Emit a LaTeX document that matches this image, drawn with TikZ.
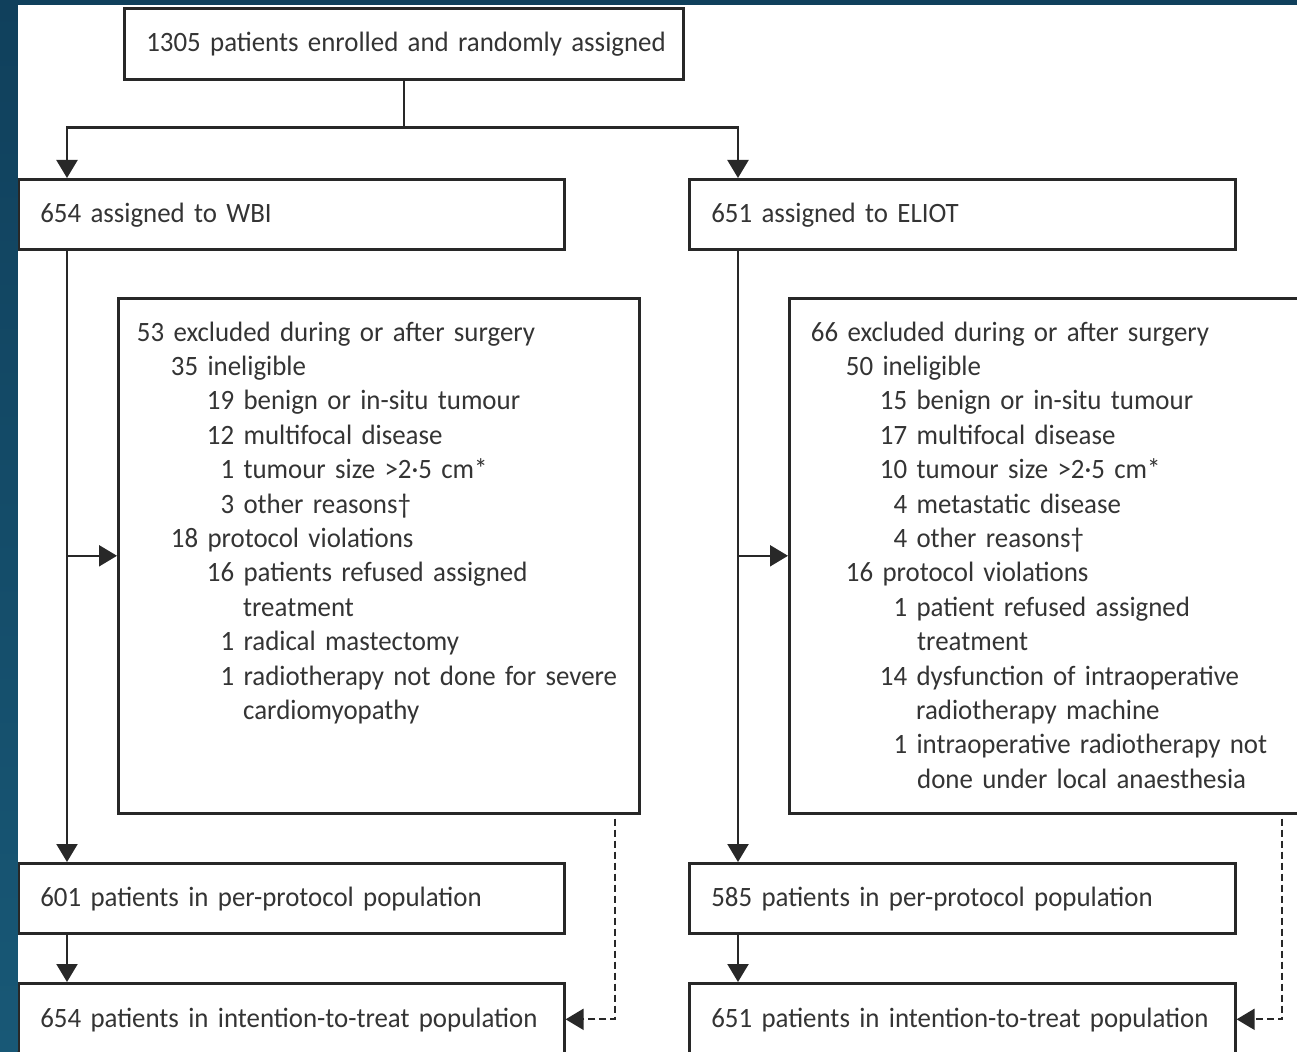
\documentclass[tikz,border=0pt]{standalone}
\usepackage{fontspec}
\setmainfont{Carlito}[FakeStretch=0.96, Numbers={Monospaced,Lining}]
\usetikzlibrary{arrows.meta}
\definecolor{ink}{RGB}{40,40,40}
\definecolor{txt}{RGB}{52,52,52}
\definecolor{stripa}{RGB}{16,64,92}
\definecolor{stripb}{RGB}{24,88,118}
\newcommand{\exn}[2]{\makebox[#1][r]{#2}\ }
\newcommand{\tightfont}{\fontsize{28}{34.4}\selectfont}

\begin{document}
\begin{tikzpicture}[
        x=1pt, y=-1pt,
        font=\tightfont,
        box/.style = {draw=ink, line width=2.6pt, anchor=north west,
                      inner xsep=22pt, inner ysep=0pt, text=txt},
        onebox/.style = {box, text width=502pt, minimum height=70pt,
                         text height=20pt, text depth=4pt, align=left},
        exbox/.style = {box, minimum width=521pt, minimum height=515pt},
        excl/.style = {anchor=base west, inner sep=0pt, text width=540pt,
                       align=left, text=txt},
        arr/.style = {draw=ink, line width=2.2pt, -{Triangle[width=21pt,length=18pt]}},
        dasharr/.style = {arr, line width=2pt, dash pattern=on 7pt off 4pt}]
      \useasboundingbox (0,0) rectangle (1297,1051);
      \clip (0,0) rectangle (1297,1051);
      \fill[white] (0,0) rectangle (1297,1051);

      \node[box, text width=515pt, minimum height=71pt, text height=20pt, text depth=4pt,
            align=left] (enrol) at (123,7) {\mbox{1305 patients enrolled and randomly assigned}};
      \node[onebox] (wbi) at (17,178) {654 assigned to WBI};
      \node[onebox] (eliot) at (688,178) {651 assigned to ELIOT};
      \node[exbox] (exl) at (117,297) {};
      \node[exbox] (exr) at (788,297) {};
      \node[excl] (exltext) at ([shift={(22,44)}]exl.north west) {%
        \exn{25pt}{53}excluded during or after surgery\\
        \exn{59pt}{35}ineligible\\
        \exn{95pt}{19}benign or in-situ tumour\\
        \exn{95pt}{12}multifocal disease\\
        \exn{95pt}{1}tumour size >2·5 cm*\\
        \exn{95pt}{3}other reasons†\\
        \exn{59pt}{18}protocol violations\\
        \exn{95pt}{16}patients refused assigned\\
        \hspace*{104pt}treatment\\
        \exn{95pt}{1}radical mastectomy\\
        \exn{95pt}{1}radiotherapy not done for severe\\
        \hspace*{104pt}cardiomyopathy};
      \node[excl] (exrtext) at ([shift={(23,44)}]exr.north west) {%
        \exn{27pt}{66}excluded during or after surgery\\
        \exn{62pt}{50}ineligible\\
        \exn{96pt}{15}benign or in-situ tumour\\
        \exn{96pt}{17}multifocal disease\\
        \exn{96pt}{10}tumour size >2·5 cm*\\
        \exn{96pt}{4}metastatic disease\\
        \exn{96pt}{4}other reasons†\\
        \exn{62pt}{16}protocol violations\\
        \exn{96pt}{1}patient refused assigned\\
        \hspace*{106pt}treatment\\
        \exn{96pt}{14}dysfunction of intraoperative\\
        \hspace*{105pt}radiotherapy machine\\
        \exn{96pt}{1}intraoperative radiotherapy not\\
        \hspace*{106pt}done under local anaesthesia};
      \node[onebox] (ppl) at (17,862) {601 patients in per-protocol population};
      \node[onebox] (ppr) at (688,862) {585 patients in per-protocol population};
      \node[onebox, minimum height=72pt] (ittl) at (17,982)
        {654 patients in intention-to-treat population};
      \node[onebox, minimum height=72pt] (ittr) at (688,982)
        {651 patients in intention-to-treat population};

      \path (enrol.south) ++(0,47) coordinate (split);
      \draw[ink, line width=2.2pt] (enrol.south) -- (split);
      \draw[arr] (split) -| ([xshift=50pt]wbi.north west);
      \draw[arr] (split) -| ([xshift=50pt]eliot.north west);

      \coordinate (wl) at ([xshift=50pt]wbi.south west);
      \coordinate (el) at ([xshift=50pt]eliot.south west);
      \draw[arr] (wl) -- (wl |- ppl.north);
      \draw[arr] (el) -- (el |- ppr.north);
      \draw[arr] (wl |- exl.west) -- (exl.west);
      \draw[arr] (el |- exr.west) -- (exr.west);
      \draw[arr] ([xshift=50pt]ppl.south west) -- ([xshift=50pt]ittl.north west);
      \draw[arr] ([xshift=50pt]ppr.south west) -- ([xshift=50pt]ittr.north west);

      \draw[dasharr] ([shift={(-26,4)}]exl.south east) |- (ittl.east);
      \draw[dasharr] ([shift={(494,4)}]exr.south west) |- (ittr.east);

      \shade[top color=stripa, bottom color=stripb] (0,0) rectangle (17.5,1051);
      \fill[stripa] (0,0) rectangle (1297,5);
    \end{tikzpicture}
\end{document}
